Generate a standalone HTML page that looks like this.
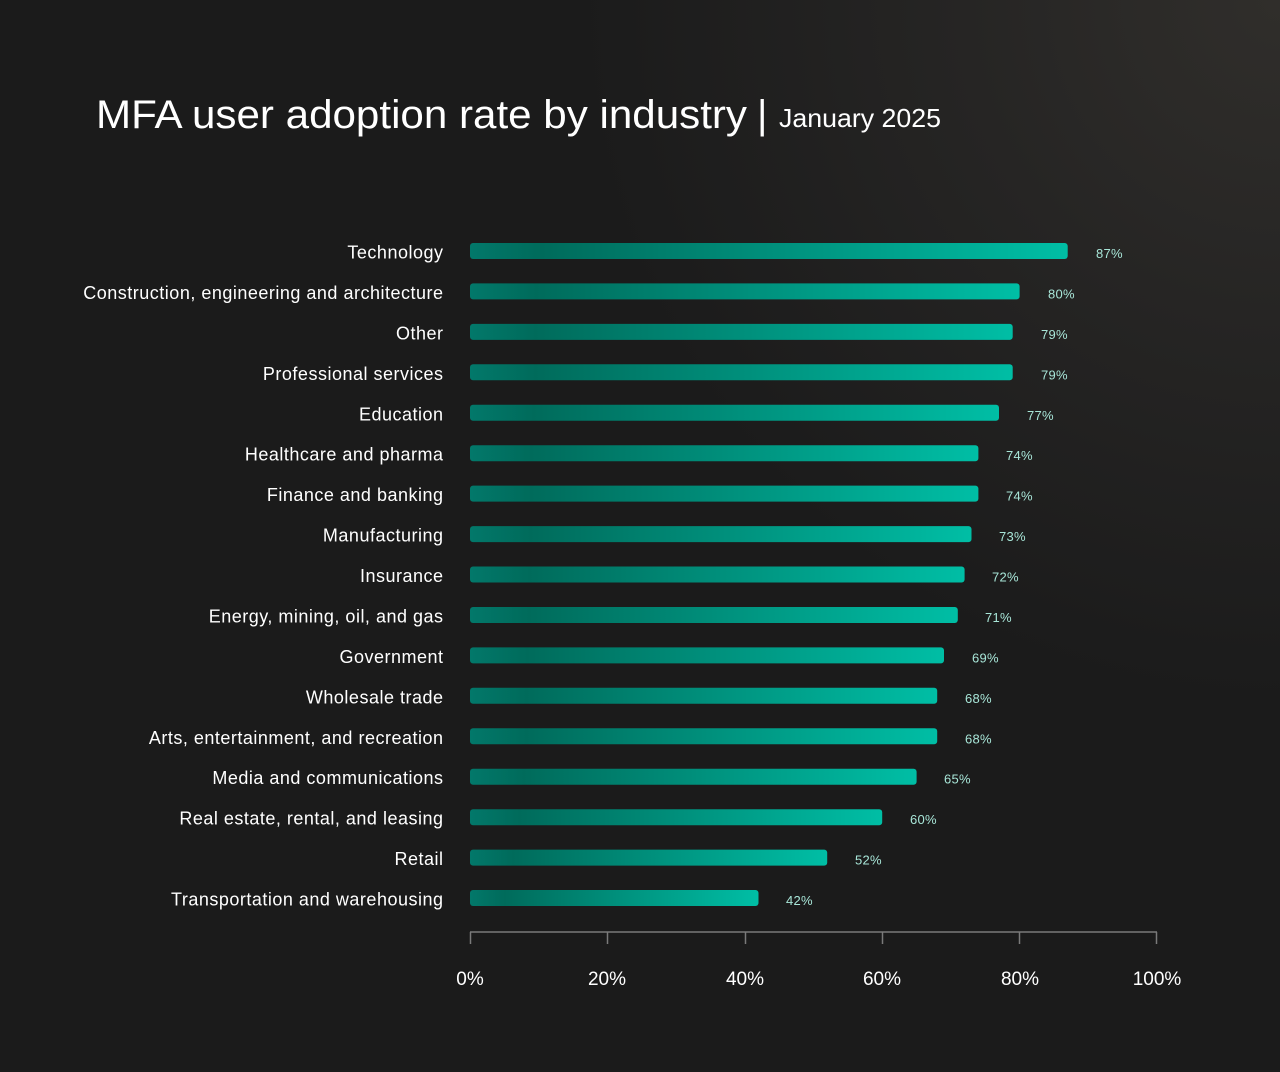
<!DOCTYPE html>
<html><head><meta charset="utf-8">
<style>
html,body{margin:0;padding:0;background:#1b1b1b;}
svg{display:block;}
text{font-family:"Liberation Sans",sans-serif;}
</style></head>
<body>
<svg width="1280" height="1072" viewBox="0 0 1280 1072" xmlns="http://www.w3.org/2000/svg">
<defs>
<radialGradient id="bg" cx="1280" cy="0" r="700" gradientUnits="userSpaceOnUse">
<stop offset="0" stop-color="#302e2b"/>
<stop offset="0.45" stop-color="#262524"/>
<stop offset="1" stop-color="#1b1b1b"/>
</radialGradient>
<linearGradient id="bar" x1="0" y1="0" x2="1" y2="0">
<stop offset="0" stop-color="#02786a"/>
<stop offset="0.12" stop-color="#006b5b"/>
<stop offset="1" stop-color="#00bea5"/>
</linearGradient>
</defs>
<rect width="1280" height="1072" fill="#1b1b1b"/>
<rect width="1280" height="1072" fill="url(#bg)"/>

<text x="96" y="128" font-size="40" fill="#ffffff" textLength="651" lengthAdjust="spacingAndGlyphs">MFA user adoption rate by industry</text>
<text x="757" y="128" font-size="40" fill="#ffffff">|</text>
<text x="779" y="127" font-size="26" fill="#ffffff" textLength="162" lengthAdjust="spacingAndGlyphs">January 2025</text>

<g font-size="18" fill="#ffffff" text-anchor="end" letter-spacing="0.5">
<text x="443.5" y="258.5">Technology</text>
<text x="443.5" y="298.9">Construction, engineering and architecture</text>
<text x="443.5" y="339.4">Other</text>
<text x="443.5" y="379.8">Professional services</text>
<text x="443.5" y="420.3">Education</text>
<text x="443.5" y="460.7">Healthcare and pharma</text>
<text x="443.5" y="501.1">Finance and banking</text>
<text x="443.5" y="541.6">Manufacturing</text>
<text x="443.5" y="582">Insurance</text>
<text x="443.5" y="622.5">Energy, mining, oil, and gas</text>
<text x="443.5" y="662.9">Government</text>
<text x="443.5" y="703.3">Wholesale trade</text>
<text x="443.5" y="743.8">Arts, entertainment, and recreation</text>
<text x="443.5" y="784.2">Media and communications</text>
<text x="443.5" y="824.7">Real estate, rental, and leasing</text>
<text x="443.5" y="865.1">Retail</text>
<text x="443.5" y="905.5">Transportation and warehousing</text>
</g>

<g fill="url(#bar)">
<rect x="470" y="243" width="597.7" height="16" rx="3"/>
<rect x="470" y="283.4" width="549.6" height="16" rx="3"/>
<rect x="470" y="323.9" width="542.7" height="16" rx="3"/>
<rect x="470" y="364.3" width="542.7" height="16" rx="3"/>
<rect x="470" y="404.8" width="529" height="16" rx="3"/>
<rect x="470" y="445.2" width="508.4" height="16" rx="3"/>
<rect x="470" y="485.6" width="508.4" height="16" rx="3"/>
<rect x="470" y="526.1" width="501.5" height="16" rx="3"/>
<rect x="470" y="566.5" width="494.6" height="16" rx="3"/>
<rect x="470" y="607" width="487.8" height="16" rx="3"/>
<rect x="470" y="647.4" width="474" height="16" rx="3"/>
<rect x="470" y="687.8" width="467.2" height="16" rx="3"/>
<rect x="470" y="728.3" width="467.2" height="16" rx="3"/>
<rect x="470" y="768.7" width="446.6" height="16" rx="3"/>
<rect x="470" y="809.2" width="412.2" height="16" rx="3"/>
<rect x="470" y="849.6" width="357.2" height="16" rx="3"/>
<rect x="470" y="890" width="288.5" height="16" rx="3"/>
</g>

<g font-size="13" fill="#a8e6d8" letter-spacing="0.3">
<text x="1096" y="258">87%</text>
<text x="1048" y="298.4">80%</text>
<text x="1041" y="338.9">79%</text>
<text x="1041" y="379.3">79%</text>
<text x="1027" y="419.8">77%</text>
<text x="1006" y="460.2">74%</text>
<text x="1006" y="500.6">74%</text>
<text x="999" y="541.1">73%</text>
<text x="992" y="581.5">72%</text>
<text x="985" y="622">71%</text>
<text x="972" y="662.4">69%</text>
<text x="965" y="702.8">68%</text>
<text x="965" y="743.3">68%</text>
<text x="944" y="783.7">65%</text>
<text x="910" y="824.2">60%</text>
<text x="855" y="864.6">52%</text>
<text x="786" y="905">42%</text>
</g>

<g stroke="#7a7a7a" stroke-width="1.5" fill="none">
<line x1="470" y1="932" x2="1157" y2="932"/>
<line x1="470.5" y1="932" x2="470.5" y2="944"/>
<line x1="607.5" y1="932" x2="607.5" y2="944"/>
<line x1="745.5" y1="932" x2="745.5" y2="944"/>
<line x1="882.5" y1="932" x2="882.5" y2="944"/>
<line x1="1019.5" y1="932" x2="1019.5" y2="944"/>
<line x1="1156.5" y1="932" x2="1156.5" y2="944"/>
</g>
<g font-size="19" fill="#ffffff" text-anchor="middle">
<text x="470" y="985">0%</text>
<text x="607" y="985">20%</text>
<text x="745" y="985">40%</text>
<text x="882" y="985">60%</text>
<text x="1020" y="985">80%</text>
<text x="1157" y="985">100%</text>
</g>
</svg>
</body></html>
